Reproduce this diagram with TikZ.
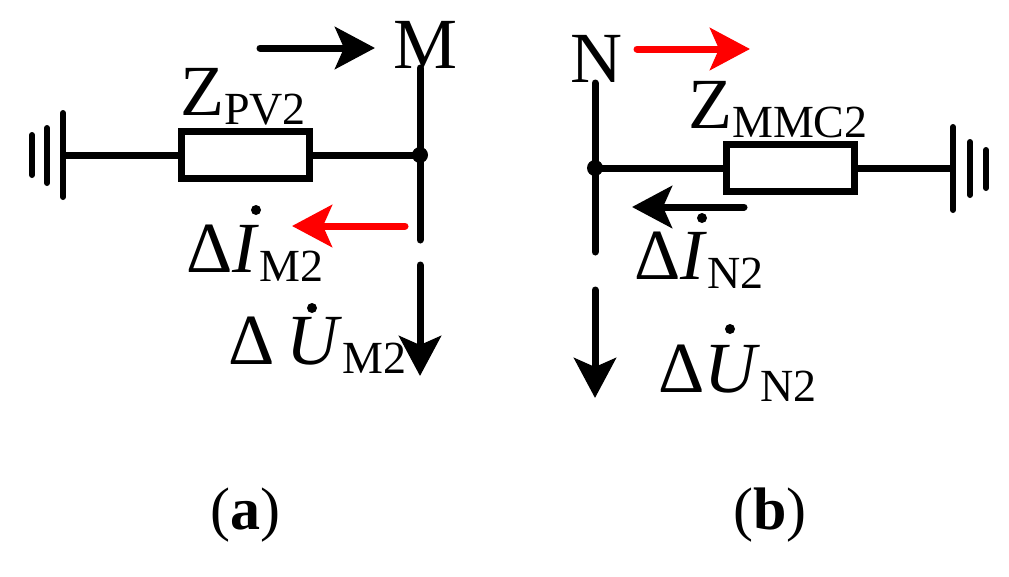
\documentclass[tikz,border=0pt]{standalone}
\usepackage{fontspec}
\setmainfont{Liberation Serif}
\usetikzlibrary{arrows.meta}
\newcommand{\subtxt}[1]{\raisebox{-9pt}{\fontsize{46}{46}\selectfont #1}}
\begin{document}
\begin{tikzpicture}[x=1pt,y=-1pt,
  w/.style={line width=7pt},
  gnd/.style={line width=6pt,line cap=round},
  res/.style={draw,line width=7pt,minimum width=128pt,minimum height=47pt,inner sep=0pt},
  arr/.style={line width=7pt,line cap=round,-{Stealth[length=40pt,width=42pt,inset=9pt]}},
  big/.style={font=\fontsize{72}{72}\selectfont,inner sep=0pt},
  lab/.style={font=\fontsize{60}{60}\selectfont,inner sep=0pt},
  dt/.style={circle,fill,inner sep=0pt,minimum size=10pt}]
\useasboundingbox (0,0) rectangle (1009,576);
% ---- (a)
\coordinate (g1) at (63,155);
\draw[gnd] (32,135) -- (32,175) (47,128) -- (47,183) (63,113) -- (63,197);
\node[res] (za) at (245,155) {};
\coordinate (m) at (420,155);
\fill (m) circle (8);
\draw[w] (g1) -- (za.west) (za.east) -- (m);
\coordinate (mt) at (420,68);
\coordinate (mb) at (420,240);
\draw[w,line cap=round] (mt) -- (mb);
\coordinate (ms) at (420,265);
\coordinate (me) at (420,376);
\draw[arr] (ms) -- (me);
\coordinate (a1s) at (260,48); \coordinate (a1e) at (375,48);
\draw[arr] (a1s) -- (a1e);
\node[big,anchor=base] (M) at (426,68) {M};
\node[big,anchor=base west] (Z1) at (180,115) {Z\subtxt{PV2}};
\coordinate (r1s) at (405,226); \coordinate (r1e) at (292,226);
\draw[arr,red] (r1s) -- (r1e);
\node[big,anchor=base west] (IM) at (186,272) {Δ\textit{I}\subtxt{M2}};
\node[dt] at (256,210) {};
\node[big,anchor=base west] (UM) at (228,364) {Δ\,\textit{U}\subtxt{M2}};
\node[dt] at (312,308) {};
% ---- (b)
\coordinate (nt) at (595,83);
\coordinate (nb) at (595,252);
\draw[w,line cap=round] (nt) -- (nb);
\coordinate (ns) at (595,290);
\coordinate (ne) at (595,398);
\draw[arr] (ns) -- (ne);
\coordinate (n) at (595,168);
\fill (n) circle (8);
\node[res] (zb) at (790,168) {};
\coordinate (g2) at (953,168);
\draw[w] (n) -- (zb.west) (zb.east) -- (g2);
\draw[gnd] (953,127) -- (953,210) (970,142) -- (970,195) (986,150) -- (986,188);
\node[big,anchor=base] (N) at (596,82) {N};
\coordinate (r2s) at (637,49); \coordinate (r2e) at (750,49);
\draw[arr,red] (r2s) -- (r2e);
\coordinate (a2s) at (744,207); \coordinate (a2e) at (632,207);
\draw[arr] (a2s) -- (a2e);
\node[big,anchor=base west] (Z2) at (688,128) {Z\subtxt{MMC2}};
\node[big,anchor=base west] (IN) at (634,279) {Δ\textit{I}\subtxt{N2}};
\node[dt] at (702,218) {};
\node[big,anchor=base west] (UN) at (658,392) {Δ\textit{U}\subtxt{N2}};
\node[dt] at (730,329) {};
% labels
\node[lab] (la) at (245,515) {(\textbf{a})};
\node[lab] (lb) at (770,515) {(\textbf{b})};
\end{tikzpicture}
\end{document}
